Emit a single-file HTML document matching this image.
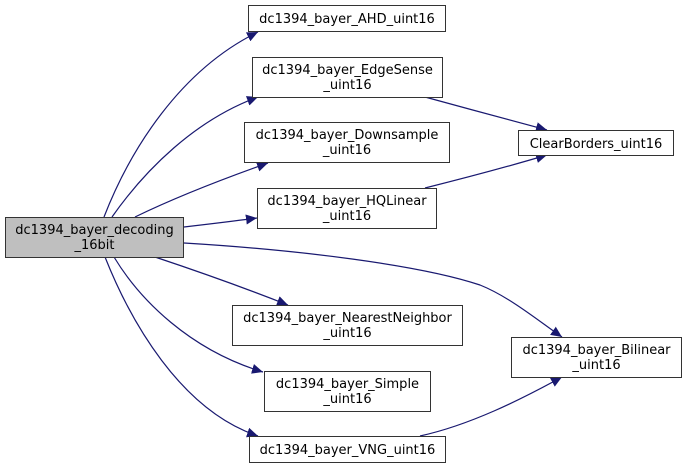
<!DOCTYPE html>
<html><head><meta charset="utf-8"><style>
html,body{margin:0;padding:0;background:#fff;}
svg{display:block;}
text{font-family:"DejaVu Sans","Liberation Sans",sans-serif;font-size:13px;fill:#000;}
</style></head><body>
<svg width="687" height="468" viewBox="0 0 687 468" xmlns="http://www.w3.org/2000/svg">
<defs>
<marker id="a" markerUnits="userSpaceOnUse" markerWidth="12" markerHeight="10" refX="11" refY="5" orient="auto">
<path d="M0,0 L11,5 L0,10 Z" fill="#191970"/>
</marker>
</defs>
<g fill="none" stroke="#191970" stroke-width="1.2" marker-end="url(#a)">
<path d="M104,217 C130,150 180,70 258,32"/>
<path d="M112,217 C145,170 195,120 258,97"/>
<path d="M135,217 C170,200 220,180 268,163"/>
<path d="M184,227 C210,224 235,221 257,218"/>
<path d="M184,243 C300,250 420,265 480,285 C510,297 540,322 562,337"/>
<path d="M155,257 C200,272 250,290 288,305"/>
<path d="M114,257 C140,300 190,350 263,372"/>
<path d="M105,257 C130,320 180,410 258,436"/>
<path d="M425,97 C465,108 510,120 547,130"/>
<path d="M425,188 C465,178 510,166 547,155"/>
<path d="M420,436 C470,425 520,400 562,377"/>
</g>
<g stroke="#333" stroke-width="1">
<rect x="5.5" y="217.5" width="178" height="40" fill="#bfbfbf"/>
<rect x="248.5" y="5.5" width="197" height="26" fill="#fff"/>
<rect x="252.5" y="57.5" width="190" height="40" fill="#fff"/>
<rect x="244.5" y="122.5" width="205" height="40" fill="#fff"/>
<rect x="257.5" y="188.5" width="179" height="40" fill="#fff"/>
<rect x="232.5" y="305.5" width="230" height="40" fill="#fff"/>
<rect x="264.5" y="371.5" width="166" height="40" fill="#fff"/>
<rect x="249.5" y="436.5" width="196" height="26" fill="#fff"/>
<rect x="518.5" y="130.5" width="155" height="25" fill="#fff"/>
<rect x="511.5" y="337.5" width="170" height="40" fill="#fff"/>
</g>
<g text-anchor="middle">
<text x="94.5" y="234">dc1394_bayer_decoding</text><text x="94.5" y="249">_16bit</text>
<text x="347" y="23">dc1394_bayer_AHD_uint16</text>
<text x="347.5" y="74">dc1394_bayer_EdgeSense</text><text x="347.5" y="89">_uint16</text>
<text x="347" y="139">dc1394_bayer_Downsample</text><text x="347" y="154">_uint16</text>
<text x="347" y="205">dc1394_bayer_HQLinear</text><text x="347" y="220">_uint16</text>
<text x="347.5" y="322">dc1394_bayer_NearestNeighbor</text><text x="347.5" y="337">_uint16</text>
<text x="347.5" y="388">dc1394_bayer_Simple</text><text x="347.5" y="403">_uint16</text>
<text x="347.5" y="454">dc1394_bayer_VNG_uint16</text>
<text x="596" y="148">ClearBorders_uint16</text>
<text x="596.5" y="354">dc1394_bayer_Bilinear</text><text x="596.5" y="369">_uint16</text>
</g>
</svg>
</body></html>
